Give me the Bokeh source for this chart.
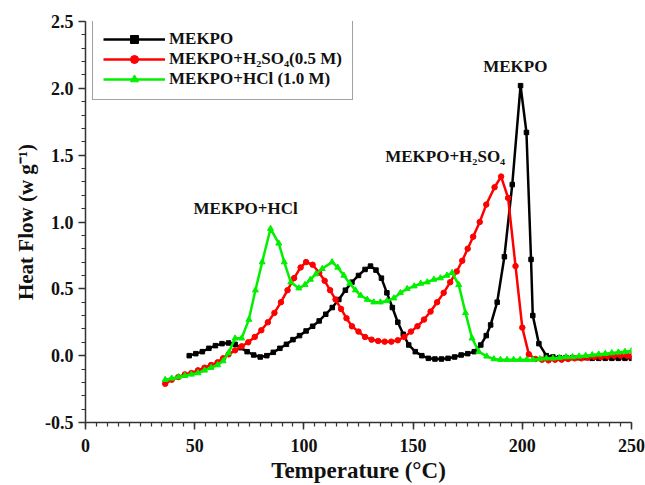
from bokeh.plotting import figure
from bokeh.models import (Range1d, SingleIntervalTicker, NumeralTickFormatter,
                          Legend, LegendItem, Label, ColumnDataSource)
from bokeh.embed import file_html
from bokeh.resources import INLINE

# ---------------- data ----------------
mekpo_x = [47.5, 50.5, 53.5, 56.5, 59.5, 62.5, 65.5, 68.5, 71.0, 74.0, 77.0, 80.0,
           83.0, 86.0, 89.0, 92.0, 95.0, 98.0, 101.0, 104.0, 107.0, 110.0, 113.0,
           116.0, 119.0, 122.0, 125.0, 128.0, 130.5, 133.0, 135.5, 138.0, 140.5,
           143.0, 145.5, 148.0, 151.0, 154.0, 157.0, 160.0, 163.0, 166.0, 169.0,
           172.0, 175.0, 178.0, 181.0, 183.5, 185.5, 188.5, 191.8, 195.4, 199.2,
           201.9, 204.0, 204.8, 207.6, 211.0, 214.0, 217.0, 220.0, 223.0, 226.0,
           229.0, 232.0, 235.0, 238.0, 241.0, 244.0, 247.0, 250.0]
mekpo_y = [0.00, 0.015, 0.03, 0.055, 0.075, 0.09, 0.095, 0.085, 0.06, 0.03, 0.005, -0.01,
           0.00, 0.025, 0.055, 0.085, 0.12, 0.15, 0.185, 0.22, 0.26, 0.31, 0.36,
           0.42, 0.49, 0.55, 0.60, 0.645, 0.67, 0.64, 0.58, 0.47, 0.36,
           0.25, 0.16, 0.08, 0.03, 0.00, -0.02, -0.025, -0.025, -0.02, -0.01,
           0.005, 0.015, 0.03, 0.08, 0.15, 0.23, 0.40, 0.74, 1.28, 2.02,
           1.67, 0.72, 0.30, 0.09, 0.00, -0.01, -0.015, -0.015, -0.015, -0.015,
           -0.015, -0.02, -0.02, -0.02, -0.02, -0.02, -0.02, -0.02]

h2so4_x = [36.5, 39.5, 42.5, 45.5, 48.5, 51.5, 54.5, 57.5, 60.5, 63.0, 65.5, 68.5,
           71.5, 74.5, 77.5, 80.5, 83.5, 86.5, 89.5, 92.5, 95.5, 98.5, 101.0, 104.0,
           107.0, 109.5, 112.0, 114.5, 117.0, 119.5, 122.0, 125.0, 128.0, 131.0,
           134.0, 137.0, 140.0, 143.0, 146.0, 149.0, 152.0, 155.0, 158.0, 161.0,
           164.0, 167.0, 170.0, 172.5, 175.0, 177.5, 180.5, 183.5, 187.3, 190.3,
           193.5, 196.9, 200.0, 203.0, 206.0, 209.0, 212.0, 215.0, 218.0, 221.0,
           224.0, 227.0, 230.0, 233.0, 236.0, 239.0, 242.0, 245.0, 248.0, 250.0]
h2so4_y = [-0.21, -0.18, -0.16, -0.14, -0.13, -0.11, -0.09, -0.07, -0.05, -0.02, 0.01, 0.04,
           0.07, 0.10, 0.14, 0.19, 0.25, 0.32, 0.40, 0.49, 0.58, 0.66, 0.70, 0.68,
           0.62, 0.56, 0.49, 0.42, 0.35, 0.28, 0.22, 0.18, 0.14, 0.12,
           0.11, 0.105, 0.105, 0.115, 0.14, 0.18, 0.22, 0.27, 0.33, 0.40,
           0.47, 0.55, 0.63, 0.71, 0.80, 0.89, 1.00, 1.13, 1.26, 1.34,
           1.18, 0.67, 0.21, 0.01, -0.025, -0.03, -0.035, -0.03, -0.03, -0.025,
           -0.02, -0.02, -0.015, -0.01, -0.01, -0.005, 0.0, 0.0, 0.0, -0.005]

hcl_x = [36.5, 39.5, 42.5, 45.5, 48.5, 51.5, 54.5, 57.5, 60.5, 63.0, 65.5, 68.5,
         71.5, 74.8, 77.8, 80.9, 84.7, 88.5, 91.0, 94.0, 97.7, 100.5, 103.0, 105.5,
         108.4, 112.9, 115.5, 118.3, 121.0, 123.6, 126.0, 129.0, 132.0, 135.0,
         138.0, 141.2, 144.2, 147.3, 150.5, 153.5, 156.5, 159.5, 162.5, 165.5,
         167.9, 170.9, 174.0, 177.0, 180.1, 183.7, 187.0, 190.0, 193.0, 196.0,
         199.0, 202.0, 205.0, 208.0, 211.0, 214.0, 217.0, 220.0, 223.0, 226.0,
         229.0, 232.0, 235.0, 238.0, 241.0, 244.0, 247.0, 250.0]
hcl_y = [-0.18, -0.17, -0.16, -0.15, -0.14, -0.13, -0.11, -0.09, -0.07, -0.04, 0.02, 0.13,
         0.13, 0.27, 0.49, 0.70, 0.95, 0.84, 0.70, 0.55, 0.505, 0.53, 0.57, 0.61,
         0.65, 0.70, 0.66, 0.60, 0.54, 0.49, 0.45, 0.42, 0.40, 0.40,
         0.41, 0.43, 0.47, 0.50, 0.52, 0.54, 0.55, 0.57, 0.58, 0.60,
         0.62, 0.53, 0.32, 0.13, 0.03, -0.005, -0.025, -0.03, -0.03, -0.03,
         -0.03, -0.03, -0.03, -0.025, -0.02, -0.02, -0.015, -0.01, -0.01, -0.005,
         0.0, 0.005, 0.01, 0.015, 0.02, 0.025, 0.03, 0.035]

series_names = ["MEKPO", "MEKPO+H\u2082SO\u2084(0.5 M)", "MEKPO+HCl (1.0 M)"]
peak_labels = ["MEKPO", "MEKPO+H\u2082SO\u2084", "MEKPO+HCl"]
peak_label_x = [196.8, 164.7, 73.3]
peak_label_y = [2.16, 1.49, 1.10]

FONT = "Liberation Serif"

# ---------------- figure ----------------
p = figure(width=645, height=485, output_backend="svg", toolbar_location=None,
           x_range=Range1d(0, 250), y_range=Range1d(-0.5, 2.5),
           min_border_left=85, min_border_right=14, min_border_top=21,
           min_border_bottom=62)
p.outline_line_color = None
p.grid.visible = False
p.background_fill_color = "white"
p.border_fill_color = "white"

src_m = ColumnDataSource(dict(x=mekpo_x, y=mekpo_y))
src_s = ColumnDataSource(dict(x=h2so4_x, y=h2so4_y))
src_h = ColumnDataSource(dict(x=hcl_x, y=hcl_y))

lm = p.line("x", "y", source=src_m, color="#000000", line_width=2.5)
sm = p.scatter("x", "y", source=src_m, marker="square", size=4.5, color="#000000")
ls = p.line("x", "y", source=src_s, color="#ff0000", line_width=2.5)
ss = p.scatter("x", "y", source=src_s, marker="circle", size=5.5, color="#ff0000")
lh = p.line("x", "y", source=src_h, color="#00f000", line_width=2.5)
sh = p.scatter("x", "y", source=src_h, marker="triangle", size=6, color="#00f000")

# axes
for ax in (p.xaxis[0], p.yaxis[0]):
    ax.axis_line_width = 1.5
    ax.axis_line_color = "#333333"
    ax.major_tick_line_color = "#333333"
    ax.minor_tick_line_color = "#333333"
    ax.major_tick_line_width = 1.5
    ax.minor_tick_line_width = 1.2
    ax.major_tick_out = 7
    ax.major_tick_in = 0
    ax.minor_tick_out = 4
    ax.minor_tick_in = 0
    ax.major_label_text_font = FONT
    ax.major_label_text_font_style = "bold"
    ax.major_label_text_font_size = "18px"
    ax.major_label_text_color = "#111111"
    ax.axis_label_text_font = FONT
    ax.axis_label_text_font_style = "bold"
    ax.axis_label_text_color = "#111111"

p.xaxis[0].axis_label_text_font_size = "23px"
p.yaxis[0].axis_label_text_font_size = "21px"
p.xaxis[0].ticker = SingleIntervalTicker(interval=50, num_minor_ticks=10)
p.yaxis[0].ticker = SingleIntervalTicker(interval=0.5, num_minor_ticks=5)
p.xaxis[0].formatter = NumeralTickFormatter(format="0")
p.yaxis[0].formatter = NumeralTickFormatter(format="0.0")
p.xaxis[0].axis_label = "Temperature (\u00b0C)"
p.yaxis[0].axis_label = "Heat Flow (w g\u207b\u00b9)"
p.xaxis[0].major_label_standoff = 9
p.yaxis[0].major_label_standoff = 5
p.xaxis[0].axis_label_standoff = 3
p.yaxis[0].axis_label_standoff = 4

# legend
legend = Legend(items=[
    LegendItem(label=series_names[0], renderers=[lm, sm]),
    LegendItem(label=series_names[1], renderers=[ls, ss]),
    LegendItem(label=series_names[2], renderers=[lh, sh]),
], location=(7, 322))
legend.label_text_font = FONT
legend.label_text_font_style = "bold"
legend.label_text_font_size = "17px"
legend.label_text_color = "#111111"
legend.glyph_width = 62
legend.glyph_height = 20
legend.label_height = 20
legend.label_standoff = 4
legend.spacing = 0
legend.padding = 10
legend.margin = 0
legend.border_line_color = "#444444"
legend.border_line_width = 1.5
legend.background_fill_alpha = 1
p.add_layout(legend, "center")

for t, x, y in zip(peak_labels, peak_label_x, peak_label_y):
    p.add_layout(Label(x=x, y=y, text=t, text_align="center", text_baseline="middle",
                       text_font=FONT, text_font_style="bold", text_font_size="17px",
                       text_color="#111111"))

open("out.html", "w").write(file_html(p, INLINE))
